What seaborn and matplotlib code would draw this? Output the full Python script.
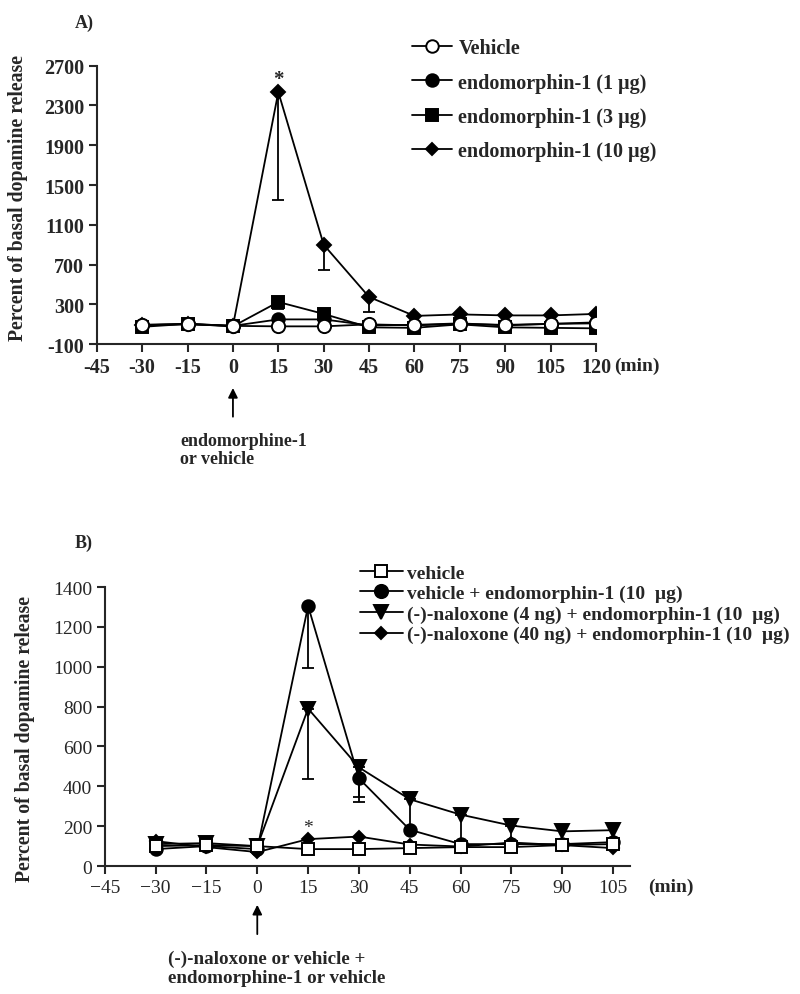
import matplotlib
matplotlib.use("Agg")
import matplotlib.pyplot as plt
from matplotlib.lines import Line2D
from matplotlib.ticker import FuncFormatter
import numpy as np
import seaborn as sns

# panel A: endomorphin-1 dose response
TIME_A = [-30, -15, 0, 15, 30, 45, 60, 75, 90, 105, 120]
VEH_A = [95, 100, 85, 80, 80, 100, 90, 105, 95, 105, 110]
E1_A = [95, 105, 85, 150, 150, 90, 95, 110, 90, 105, 120]
E3_A = [75, 105, 80, 325, 205, 70, 65, 100, 70, 65, 60]
E10_A = [90, 105, 85, 2435, 900, 375, 185, 200, 190, 190, 205]
E3_ERR_A = [0, 0, 0, 75, 0, 0, 0, 0, 0, 0, 0]
E10_ERR_A = [0, 0, 0, 1085, 250, 155, 0, 0, 0, 0, 0]
LABELS_A = ["Vehicle", "endomorphin-1 (1 \u00b5g)", "endomorphin-1 (3 \u00b5g)", "endomorphin-1 (10 \u00b5g)"]
XTICKS_A = list(range(-45, 121, 15))
YTICKS_A = list(range(-100, 2701, 400))

# panel B: naloxone pretreatment
TIME_B = [-30, -15, 0, 15, 30, 45, 60, 75, 90, 105]
VEH_B = [100, 105, 100, 85, 85, 90, 95, 95, 105, 110]
VE10_B = [85, 100, 85, 1305, 440, 182, 110, 110, 110, 120]
NAL4_B = [110, 115, 100, 790, 495, 335, 258, 203, 174, 180]
NAL40_B = [125, 95, 70, 135, 148, 108, 98, 118, 105, 90]
VE10_ERR_B = [0, 0, 0, 312, 95, 0, 0, 0, 0, 0]
NAL4_ERR_B = [0, 0, 0, 353, 175, 155, 148, 76, 0, 0]
LABELS_B = ["vehicle", "vehicle + endomorphin-1 (10  \u00b5g)",
            "(-)-naloxone (4 ng) + endomorphin-1 (10  \u00b5g)",
            "(-)-naloxone (40 ng) + endomorphin-1 (10  \u00b5g)"]
XTICKS_B = list(range(-45, 106, 15))
YTICKS_B = list(range(0, 1401, 200))

sns.set_theme(style="ticks")
plt.rcParams["font.family"] = ["Liberation Serif", "DejaVu Serif"]
plt.rcParams["axes.linewidth"] = 1.5

fig = plt.figure(figsize=(8, 9.95), dpi=100)


def px(x, y):
    return x / 800, 1 - y / 995


def series(ax, x, y, marker, ms, face, z, err=None, capsize=4.5):
    if err is not None:
        lower = np.array(err)
        keep = lower > 0
        ax.errorbar(np.array(x)[keep], np.array(y)[keep], yerr=[lower[keep], np.zeros(keep.sum())],
                    fmt="none", ecolor="black", elinewidth=1.3, capsize=capsize, capthick=1.3, zorder=z - 0.5)
    sns.lineplot(x=x, y=y, ax=ax, color="black", lw=1.3, marker=marker, markersize=ms,
                 markerfacecolor=face, markeredgecolor="black", markeredgewidth=1.4, zorder=z)


def style_axes(ax, xticks, yticks, bold, size, minus, label_xy):
    sns.despine(ax=ax)
    ax.set_xticks(xticks)
    ax.set_yticks(yticks)
    ax.set_xlim(xticks[0], xticks[-1] + (0 if bold else 5))
    ax.set_ylim(yticks[0], yticks[-1])
    fmt = FuncFormatter(lambda v, p: f"{int(v)}".replace("-", minus))
    ax.xaxis.set_major_formatter(fmt)
    ax.yaxis.set_major_formatter(fmt)
    ax.tick_params(direction="out", length=6, width=1.5, labelsize=size, pad=3)
    for lab in ax.get_xticklabels() + ax.get_yticklabels():
        lab.set_fontweight("bold" if bold else "normal")
    ax.set_ylabel("Percent of basal dopamine release", fontsize=14.2, fontweight="bold")
    ax.yaxis.set_label_coords(*label_xy)
    ax.set_xlabel("")


# ---- panel A ----
axA = fig.add_axes([0.121, 0.653, 0.624, 0.280])
series(axA, TIME_A, E10_A, "D", 7, "black", 3, E10_ERR_A)
series(axA, TIME_A, E3_A, "s", 9, "black", 4, E3_ERR_A)
series(axA, TIME_A, E1_A, "o", 9, "black", 5)
series(axA, TIME_A, VEH_A, "o", 9.5, "white", 6)
style_axes(axA, XTICKS_A, YTICKS_A, True, 14.5, "-", (-0.138, 0.53))
axA.text(15, 2470, "*", ha="center", va="bottom", fontsize=15, fontweight="bold")

hA = [Line2D([], [], color="black", lw=1.3, marker=m, markersize=s, markerfacecolor=f,
             markeredgecolor="black", markeredgewidth=1.4)
      for m, s, f in [("o", 9, "white"), ("o", 9, "black"), ("s", 9, "black"), ("D", 6.5, "black")]]
fig.legend(hA, LABELS_A, loc="upper left", bbox_to_anchor=px(412, 39), frameon=False,
           prop={"weight": "bold", "size": 14.5}, handlelength=2.0, handletextpad=0.3,
           labelspacing=0.72, borderpad=0, borderaxespad=0)

fig.text(*px(75, 23), "A)", fontsize=13, fontweight="bold", va="center")
fig.text(*px(614, 366), "(min)", fontsize=14, fontweight="bold", va="center")
axA.annotate("", xy=(0, -0.147), xytext=(0, -0.27), xycoords=axA.get_xaxis_transform(),
             arrowprops=dict(arrowstyle="-|>", color="black", lw=1.3, mutation_scale=14))
fig.text(*px(180, 433), "endomorphine-1\nor vehicle", fontsize=13, fontweight="bold",
         va="top", ha="left", linespacing=1.1)

# ---- panel B ----
axB = fig.add_axes([0.131, 0.1286, 0.6565, 0.2804])
series(axB, TIME_B, NAL40_B, "D", 6.5, "black", 3)
series(axB, TIME_B, NAL4_B, "v", 10, "black", 4, NAL4_ERR_B, capsize=4.5)
series(axB, TIME_B, VE10_B, "o", 9, "black", 5, VE10_ERR_B, capsize=4.5)
series(axB, TIME_B, VEH_B, "s", 9, "white", 6)
style_axes(axB, XTICKS_B, YTICKS_B, False, 14, "\u2212", (-0.132, 0.46))
axB.text(15, 150, "*", ha="center", va="bottom", fontsize=14)

hB = [Line2D([], [], color="black", lw=1.3, marker=m, markersize=s, markerfacecolor=f,
             markeredgecolor="black", markeredgewidth=1.4)
      for m, s, f in [("s", 9, "white"), ("o", 9.5, "black"), ("v", 9.5, "black"), ("D", 6.5, "black")]]
fig.legend(hB, LABELS_B, loc="upper left", bbox_to_anchor=px(360, 565), frameon=False,
           prop={"weight": "bold", "size": 14}, handlelength=2.2, handletextpad=0.2,
           labelspacing=0.15, borderpad=0, borderaxespad=0)

fig.text(*px(75, 543), "B)", fontsize=13, fontweight="bold", va="center")
fig.text(*px(648, 887), "(min)", fontsize=14, fontweight="bold", va="center")
axB.annotate("", xy=(0, -0.129), xytext=(0, -0.254), xycoords=axB.get_xaxis_transform(),
             arrowprops=dict(arrowstyle="-|>", color="black", lw=1.3, mutation_scale=14))
fig.text(*px(168, 951), "(-)-naloxone or vehicle +\nendomorphine-1 or vehicle", fontsize=13.7,
         fontweight="bold", va="top", ha="left", linespacing=1.1)

fig.savefig("out.png", dpi=100)
